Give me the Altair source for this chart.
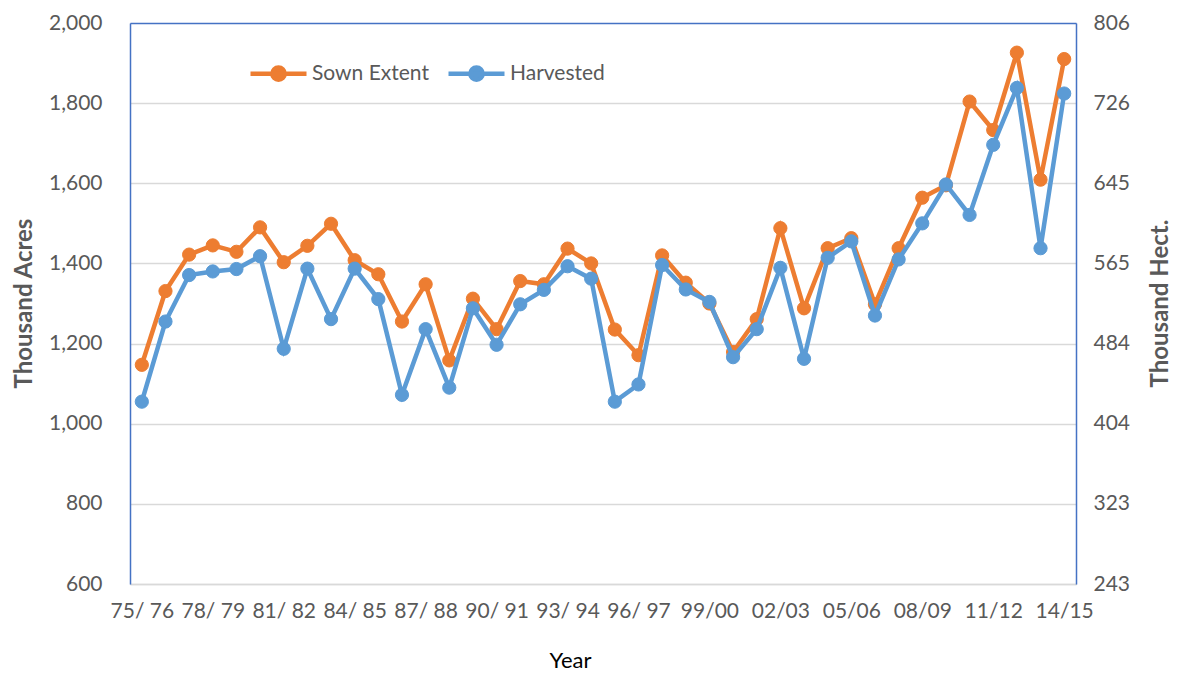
import altair as alt
import pandas as pd

# ---- data ----
start_years = list(range(1975, 2015))
seasons = []
for y in start_years:
    a = f"{y % 100:02d}"
    b = f"{(y + 1) % 100:02d}"
    seasons.append(f"{a}/ {b}" if y < 1999 else f"{a}/{b}")

sown = [1147, 1331, 1422, 1445, 1429, 1490, 1403, 1444, 1499, 1408,
        1373, 1255, 1348, 1158, 1312, 1236, 1356, 1348, 1437, 1400,
        1235, 1171, 1420, 1352, 1300, 1179, 1261, 1488, 1288, 1438,
        1463, 1298, 1438, 1564, 1595, 1804, 1733, 1926, 1609, 1910]
harvested = [1055, 1255, 1371, 1380, 1386, 1418, 1187, 1387, 1261, 1387,
             1311, 1072, 1236, 1090, 1288, 1197, 1298, 1334, 1393, 1362,
             1055, 1098, 1396, 1335, 1304, 1166, 1236, 1389, 1162, 1414,
             1455, 1270, 1410, 1500, 1597, 1521, 1696, 1838, 1438, 1824]

series_names = ["Sown Extent", "Harvested"]
series_colors = ["#ED7D31", "#5B9BD5"]
acre_ticks = [600, 800, 1000, 1200, 1400, 1600, 1800, 2000]
hect_labels = ["243", "323", "404", "484", "565", "645", "726", "806"]
shown_seasons = seasons[::3]

df = pd.DataFrame({
    "season": seasons + seasons,
    "series": [series_names[0]] * len(seasons) + [series_names[1]] * len(seasons),
    "acres": sown + harvested,
})

FONT = "Lato"
GREY = "#595959"
FRAME = "#4472C4"
cs = alt.Scale(domain=series_names, range=series_colors)

x_enc = alt.X(
    "season:O", sort=seasons,
    scale=alt.Scale(type="point", padding=0.5),
    axis=alt.Axis(values=shown_seasons, labelAngle=0, labelOverlap=False,
                  labelFont=FONT, labelFontSize=21, labelColor=GREY, labelPadding=16,
                  ticks=False, grid=False, domainColor="#D9D9D9", domainWidth=1.5,
                  title="Year", titleFont=FONT, titleFontSize=22, titleFontWeight="normal",
                  titleColor="#000000", titleX=440, titleY=76,
                  titleBaseline="middle", titleAlign="center"),
)

y_scale = alt.Scale(domain=[600, 2000], nice=False, zero=False)
y_left = alt.Y(
    "acres:Q", scale=y_scale,
    axis=alt.Axis(values=acre_ticks, format=",d",
                  labelFont=FONT, labelFontSize=21, labelColor=GREY,
                  labelPadding=28, ticks=False,
                  domain=True, domainColor=FRAME, domainWidth=1.5,
                  grid=True,
                  gridColor=alt.condition("datum.value == 2000", alt.value(FRAME), alt.value("#D9D9D9")),
                  gridWidth=1.5,
                  title="Thousand Acres", titleFont=FONT, titleFontSize=24, titleFontWeight="bold",
                  titleColor=GREY, titleX=-106, titleY=280, titleAngle=270,
                  titleAlign="center", titleBaseline="middle"),
)

label_expr = "[" + ",".join(f"'{h}'" for h in hect_labels) + "][indexof([" + \
    ",".join(str(v) for v in acre_ticks) + "], datum.value)]"

y_right = alt.Y(
    "acres:Q", scale=y_scale,
    axis=alt.Axis(orient="right", values=acre_ticks, labelExpr=label_expr,
                  labelFont=FONT, labelFontSize=21, labelColor=GREY, labelPadding=17,
                  ticks=False, domain=True, domainColor=FRAME, domainWidth=1.5,
                  grid=False,
                  title="Thousand Hect.", titleFont=FONT, titleFontSize=24, titleFontWeight="bold",
                  titleColor=GREY, titleX=84, titleY=280, titleAngle=270,
                  titleAlign="center", titleBaseline="middle"),
)

legend = alt.Legend(
    orient="none", legendX=118, legendY=20, direction="horizontal", title=None,
    symbolType="M-1,0H1M-0.22,0A0.22,0.22,0,1,1,0.22,0A0.22,0.22,0,1,1,-0.22,0Z",
    symbolSize=3136, symbolStrokeWidth=4.5, symbolOpacity=1,
    labelFont=FONT, labelFontSize=21, labelColor=GREY, labelOffset=3,
    columnPadding=10,
)

base = alt.Chart(df).encode(x=x_enc)

layers = []
for name in series_names:
    d = base.transform_filter(alt.datum.series == name)
    line = d.mark_line(strokeWidth=4.5).encode(
        y=y_left, stroke=alt.Stroke("series:N", scale=cs, legend=legend))
    pts = d.mark_point(filled=True, size=175, opacity=1, strokeWidth=1).encode(
        y=y_left,
        fill=alt.Fill("series:N", scale=cs, legend=legend),
        stroke=alt.Stroke("series:N", scale=cs, legend=legend))
    layers += [line, pts]

right = base.mark_point(opacity=0).encode(y=y_right)

chart = alt.layer(alt.layer(*layers), right).resolve_scale(y="independent").properties(
    width=946, height=561,
    autosize=alt.AutoSizeParams(type="none"),
    padding={"left": 122, "top": 15, "right": 96, "bottom": 92},
).configure_view(
    stroke=FRAME, strokeWidth=1.5
).configure_axis(
    labelFont=FONT, titleFont=FONT
).configure_legend(
    labelFont=FONT
).configure(background="white", font=FONT)

chart.save("out.html", embed_options={"renderer": "svg", "actions": False})
